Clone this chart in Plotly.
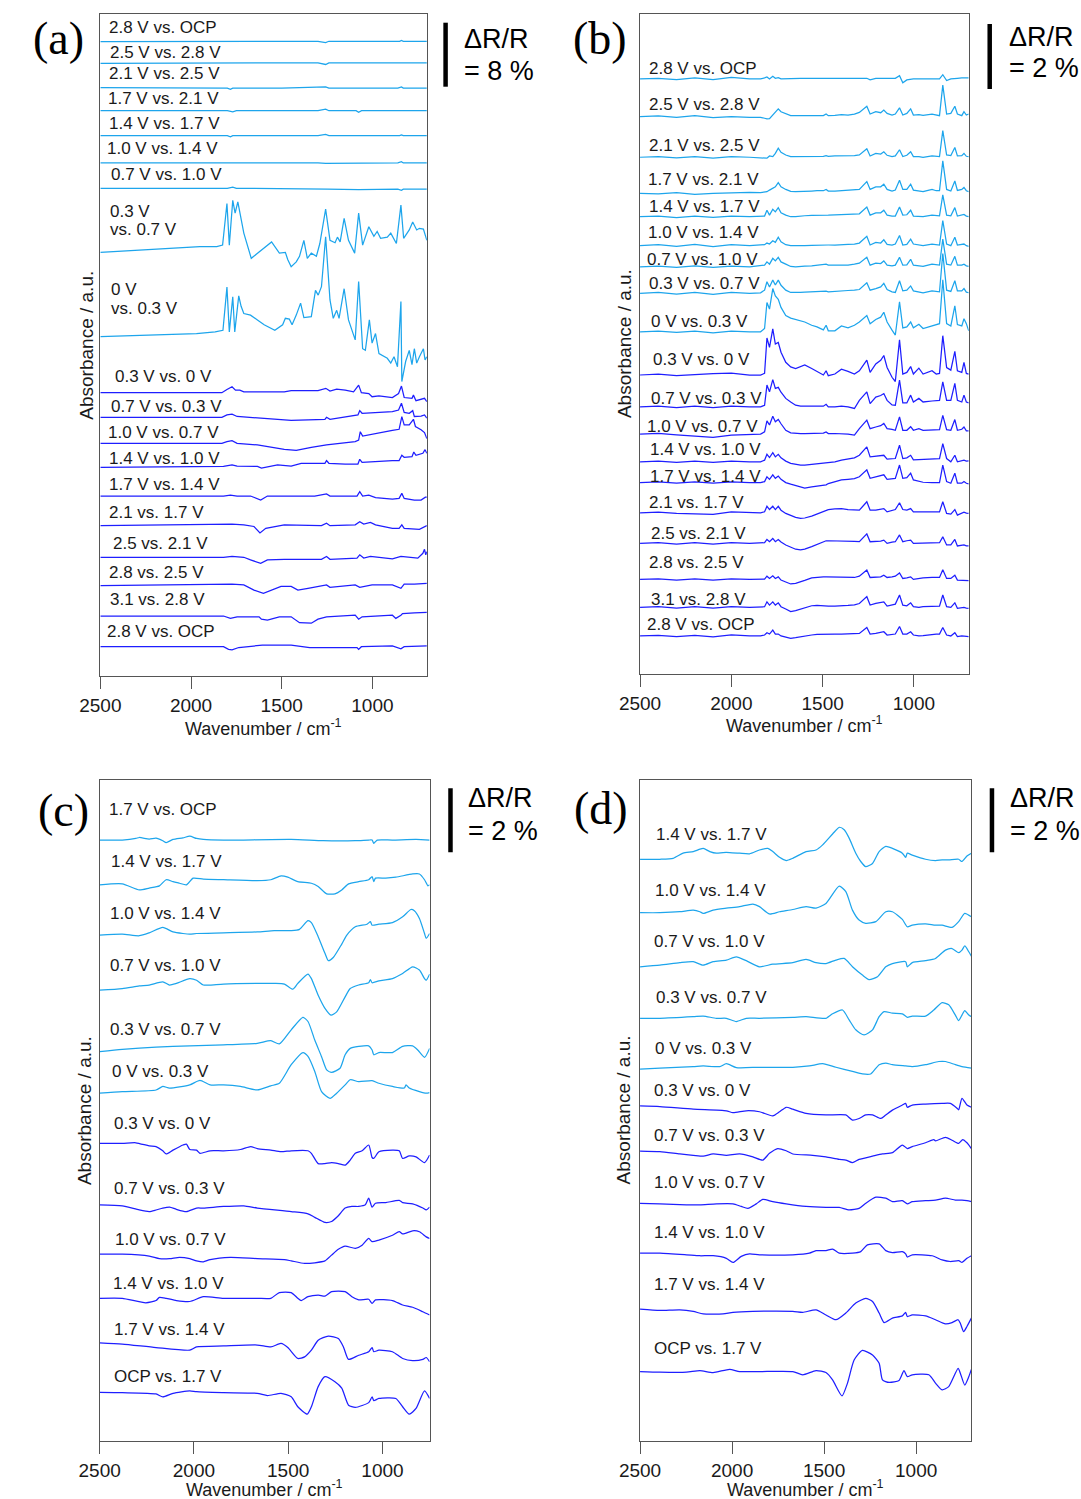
import plotly.graph_objects as go

FIG_W, FIG_H = 1081, 1499
CYAN = "#1DA5EC"
BLUE = "#1E1EFF"
TEXT = "#1a1a1a"
FRAME = "#555555"
SANS = "Liberation Sans, Arial, sans-serif"
SERIF = "Liberation Serif, Times New Roman, serif"

# ------------------------------------------------------------------
# (a)  spectra as (wavenumber / cm-1, dR/R / %) pairs, relative to each baseline
# ------------------------------------------------------------------
A_LABELS = ["2.8 V vs. OCP", "2.5 V vs. 2.8 V", "2.1 V vs. 2.5 V", "1.7 V vs. 2.1 V",
            "1.4 V vs. 1.7 V", "1.0 V vs. 1.4 V", "0.7 V vs. 1.0 V", "0.3 V\nvs. 0.7 V",
            "0 V\nvs. 0.3 V", "0.3 V vs. 0 V", "0.7 V vs. 0.3 V", "1.0 V vs. 0.7 V",
            "1.4 V vs. 1.0 V", "1.7 V vs. 1.4 V", "2.1 vs. 1.7 V", "2.5 vs. 2.1 V",
            "2.8 vs. 2.5 V", "3.1 vs. 2.8 V", "2.8 V vs. OCP"]
A_OFFSET = [79.29, 76.59, 73.54, 70.66, 67.54, 64.13, 60.96, 52.96, 42.41, 35.41,
            32.34, 29.09, 26.09, 22.5, 18.79, 14.84, 11.29, 7.5, 3.66]
A_N_CYAN = 9

A01 = [(2500, 0), (1900, 0), (1790, 0.05), (1300, 0.05), (1258, -0.12), (1240, 0.05), (1080, 0.05),
       (850, 0.05), (840, 0.15), (830, 0.05), (700, 0.05)]
A02 = [(2500, 0), (1900, 0), (1790, 0.05), (1300, 0.05), (1258, -0.15), (1240, 0.05), (1080, 0.05),
       (850, 0.05), (840, 0.12), (830, 0.05), (700, 0.05)]
A03 = [(2500, 0), (1900, -0.05), (1800, -0.05), (1783, -0.2), (1770, -0.05), (1500, -0.05), (1258, 0.1),
       (1240, -0.05), (1080, -0.1), (1070, -0.05), (860, -0.05), (840, 0.1), (830, -0.05), (700, -0.05)]
A04 = [(2500, 0), (1800, 0), (1770, -0.15), (1750, 0), (1300, 0), (1258, 0.2), (1240, 0), (1090, 0),
       (1076, -0.2), (1060, 0), (700, 0)]
A05 = [(2500, 0), (1800, 0), (1783, -0.15), (1770, 0), (1300, 0), (1258, 0.15), (1240, 0), (850, 0),
       (840, 0.1), (830, 0), (700, 0)]
A06 = [(2500, 0), (1800, 0), (1770, 0.05), (1300, 0), (1258, -0.05), (860, 0), (840, 0.15), (830, 0),
       (700, 0)]
A07 = [(2500, 0), (1800, 0), (1770, 0.15), (1750, 0), (1250, -0.1), (1076, -0.15), (860, -0.1),
       (840, -0.25), (830, -0.1), (700, -0.1)]
A08 = [(2500, 0), (1951, 0.7), (1858, 0.7), (1826, 0.9), (1802, 6.1), (1789, 0.9), (1770, 6.5),
       (1757, 4.9), (1742, 6.3), (1709, 2.4), (1668, -0.75), (1634, -0.1), (1556, 1.3), (1513, -0.1),
       (1480, 0), (1467, -0.9), (1448, -1.8), (1420, -1.2), (1402, -0.5), (1378, 1.5), (1359, -0.75),
       (1337, -0.1), (1309, -0.5), (1290, 1.1), (1258, 5.4), (1234, 1.5), (1206, 1.2), (1193, 1.9),
       (1178, 1.3), (1156, 4.25), (1132, 1.5), (1098, -0.1), (1076, 4.9), (1054, 0.9), (1020, 3.2),
       (992, 2.0), (974, 2.6), (955, 1.75), (918, 1.9), (899, 2.4), (868, 1.1), (843, 5.9),
       (828, 1.75), (797, 2.8), (778, 3.8), (756, 2.8), (741, 3.0), (719, 2.9), (700, 1.5)]
A09 = [(2500, 0), (1970, 0.4), (1867, 0.6), (1824, 0.8), (1802, 6.2), (1789, 0.6), (1770, 5.0),
       (1759, 0.6), (1737, 5.1), (1724, 3.8), (1709, 2.9), (1672, 2.7), (1634, 2.1), (1597, 1.5),
       (1538, 0.8), (1495, 1.5), (1480, 2.3), (1458, 2.2), (1443, 1.5), (1420, 2.7), (1396, 4.2),
       (1389, 3.3), (1378, 2.4), (1337, 2.5), (1314, 5.8), (1299, 5.2), (1281, 6.25), (1258, 12.5),
       (1234, 4.6), (1216, 2.3), (1197, 3.3), (1184, 2.3), (1156, 6.0), (1132, 2.1), (1095, -0.4),
       (1076, 6.9), (1054, -1.5), (1039, -1.7), (1017, 2.1), (1002, -0.8), (983, 0.4), (964, -2.1),
       (918, -2.7), (899, -3.3), (881, -2.5), (862, -3.75), (843, 4.4), (838, -5.6), (817, -3.1),
       (797, -1.7), (782, -3.5), (769, -1.5), (756, -3.3), (741, -2.5), (719, -1.5), (710, -2.9),
       (700, -2.5)]
A10 = [(2500, 0), (1830, 0), (1802, 0.4), (1774, 0.75), (1755, 0.33), (1731, 0.33), (1709, 0.1),
       (1486, 0.1), (1448, 0.25), (1393, 0.25), (1300, 0.25), (1257, 0.55), (1234, 0.2), (1197, 0.45),
       (1150, 0.33), (1104, 0.1), (1076, 0.95), (1061, 0), (1020, -0.1), (1002, -0.5), (964, -0.4),
       (890, -0.6), (856, -0.1), (840, 0.83), (825, -0.6), (782, -0.7), (774, -0.3), (760, -1.0),
       (732, -0.8), (713, -0.7), (700, -1.1)]
A11 = [(2500, 0), (1830, 0), (1802, 0.3), (1774, 0.4), (1746, 0.1), (1634, -0.1), (1448, -0.4),
       (1262, -0.25), (1253, 0), (1234, -0.25), (1113, 0.15), (1080, 0.3), (1070, 0.83), (1057, 0.5),
       (890, 0.7), (856, 0.9), (840, 1.75), (825, 0.6), (797, 0.5), (778, 0.83), (769, 0.1),
       (732, 0.15), (713, 0.3), (700, -0.1)]
A12 = [(2500, 0), (1830, 0), (1802, 0.2), (1774, 0.33), (1746, 0), (1634, -0.2), (1486, -0.75),
       (1420, -0.9), (1337, -0.5), (1253, -0.2), (1095, 0.2), (1076, 0.4), (1067, 1.45), (1054, 0.9),
       (890, 1.6), (853, 1.75), (838, 3.33), (825, 2.3), (797, 2.3), (774, 3.0), (763, 2.1),
       (732, 1.7), (713, 1.33), (700, 0.6)]
A13 = [(2500, 0), (1821, 0.1), (1774, 0.3), (1746, 0.15), (1634, 0.1), (1612, -0.1), (1523, 0.3),
       (1448, 0.15), (1393, 0.5), (1262, 0.5), (1253, 0.83), (1240, 0.5), (1150, 0.4), (1080, 0.4),
       (1070, 1.0), (1057, 0.6), (890, 0.83), (853, 0.83), (838, 1.5), (825, 1.25), (782, 1.33),
       (772, 1.9), (760, 1.5), (722, 1.75), (710, 2.2), (700, 1.75)]
A14 = [(2500, 0), (1821, 0), (1783, 0.1), (1746, 0), (1672, 0), (1616, -0.5), (1579, 0), (1448, 0),
       (1318, 0), (1253, 0.25), (1234, 0), (1085, 0), (1070, 0.55), (1054, 0), (1020, 0.1),
       (983, -0.2), (890, -0.4), (853, -0.3), (838, 0.33), (825, -0.3), (769, -0.5), (732, -0.5),
       (708, -0.15), (700, -0.15)]
A15 = [(2500, 0), (1821, 0.1), (1774, 0.2), (1709, 0.1), (1653, -0.1), (1620, -0.9), (1588, -0.33),
       (1486, 0.1), (1281, 0), (1253, 0.3), (1234, 0), (1095, 0.1), (1070, 0.5), (1048, 0.2),
       (1011, 0.4), (983, 0.1), (890, -0.33), (853, -0.33), (838, 0.1), (825, -0.33), (741, -0.45),
       (700, 0)]
A16 = [(2500, 0), (1821, 0), (1774, 0.1), (1709, 0), (1672, -0.33), (1616, -0.75), (1579, -0.33),
       (1486, -0.25), (1281, -0.25), (1253, 0.1), (1234, -0.25), (1085, -0.1), (1070, 0.3),
       (1048, -0.1), (1011, 0.1), (890, -0.2), (843, 0.1), (750, -0.1), (722, 0.5), (713, 1.0),
       (706, 0.3), (700, 0.7)]
A17 = [(2500, 0), (1821, 0.1), (1774, 0.2), (1709, 0.1), (1653, -0.55), (1601, -0.95), (1560, -0.55),
       (1504, -0.1), (1448, -0.1), (1411, -0.55), (1355, -0.33), (1253, 0.1), (1234, -0.2),
       (1095, 0.1), (1070, -0.2), (1002, 0.1), (890, 0.1), (843, -0.33), (825, 0.2), (769, 0.2),
       (700, 0.3)]
A18 = [(2500, 0), (1821, 0), (1783, -0.3), (1746, -0.1), (1625, -0.1), (1612, -0.4), (1579, -0.5),
       (1513, -0.1), (1448, -0.1), (1402, -0.83), (1337, -0.9), (1300, -0.4), (1253, -0.1),
       (1150, 0), (1095, 0.1), (1076, -0.4), (1057, -0.1), (890, 0.1), (871, -0.3), (843, 0.1),
       (834, 0.3), (769, 0.4), (700, 0.45)]
A19 = [(2500, 0), (1821, 0), (1793, -0.33), (1774, -0.4), (1737, -0.1), (1607, 0.2), (1448, 0.2),
       (1346, -0.1), (1150, -0.1), (1085, -0.1), (1076, -0.33), (1061, 0), (890, 0.1), (843, -0.25),
       (825, 0), (700, 0.1)]
A_SPECTRA = [A01, A02, A03, A04, A05, A06, A07, A08, A09, A10,
             A11, A12, A13, A14, A15, A16, A17, A18, A19]
A_LABEL_X = [87.8, 88.8, 87.8, 86.8, 88, 86, 89.5, 89, 90.2, 94,
             90.2, 86.8, 87.8, 87.8, 87.5, 92, 87.5, 88.8, 85.4]
A_LABEL_Y = [27.3, 52.7, 74, 99, 123.3, 149, 174, 211, 290, 376,
             406, 432.7, 458.3, 484, 512.3, 543.3, 572.7, 600, 631]

# ------------------------------------------------------------------
# (b)  spectra sampled on a shared wavenumber grid (dR/R / %)
# ------------------------------------------------------------------
B_WN = [2500, 2400, 2300, 2200, 2100, 2000, 1900,
        1840, 1818, 1805, 1791, 1773, 1759, 1743, 1728, 1702,
        1675, 1648, 1621, 1598, 1560, 1531, 1496, 1481, 1469, 1433, 1397, 1361, 1326, 1299,
        1258, 1240, 1209, 1182, 1165, 1147, 1120, 1102,
        1079, 1061, 1039, 1018, 1003, 973, 950, 901, 878, 860,
        842, 821, 798, 776, 762, 738, 726, 713, 700]
B_LABELS = ["2.8 V vs. OCP", "2.5 V vs. 2.8 V", "2.1 V vs. 2.5 V", "1.7 V vs. 2.1 V",
            "1.4 V vs. 1.7 V", "1.0 V vs. 1.4 V", "0.7 V vs. 1.0 V", "0.3 V vs. 0.7 V",
            "0 V vs. 0.3 V", "0.3 V vs. 0 V", "0.7 V vs. 0.3 V", "1.0 V vs. 0.7 V",
            "1.4 V vs. 1.0 V", "1.7 V vs. 1.4 V", "2.1 vs. 1.7 V", "2.5 vs. 2.1 V",
            "2.8 vs. 2.5 V", "3.1 vs. 2.8 V", "2.8 V vs. OCP"]
B_OFFSET = [18.31, 17.15, 15.90, 14.79, 14.07, 13.18, 12.53, 11.71, 10.53, 9.2,
            8.22, 7.38, 6.53, 5.89, 4.96, 4.02, 2.91, 2.05, 1.17]
B_N_CYAN = 9

B01 = [0, 0.02, -0.02, 0.03, -0.02, 0.05, 0,
       0, 0.03, 0.06, 0, 0.08, 0.02, 0.04, 0, 0.01,
       0.02, 0.02, 0.02, 0.02, 0.02, 0.02, 0.02, 0.02, 0.02, 0.01, 0.02, 0.02, 0.02, 0.03,
       0.02, -0.03, 0.02, 0.02, 0.03, 0.02, 0.02, 0.02,
       0.1, -0.12, -0.03, 0, 0, 0, 0, 0.02, 0, 0,
       0.13, -0.05, 0, 0.02, 0.02, 0.03, 0.03, 0.03, 0.03]
B02 = [0, 0.02, -0.02, 0.03, -0.03, 0, -0.02,
       -0.02, -0.05, -0.07, -0.06, 0.05, 0.12, 0.24, 0.15, 0.08,
       0.03, 0.03, 0.03, 0.03, 0.03, 0.03, 0.03, 0.08, 0.03, 0.04, 0.06, 0.05, 0.08, 0.13,
       0.32, 0.08, 0.15, 0.12, 0.2, 0.1, 0.05, 0.08,
       0.27, 0.05, 0.1, 0.24, 0.05, 0.06, 0.04, 0.08, 0.05, 0.03,
       0.97, 0.08, 0.1, 0.32, 0.08, 0.03, 0.15, 0.05, 0.08]
B03 = [0, 0.02, -0.02, 0.02, -0.03, 0.02, 0,
       -0.02, -0.03, -0.03, 0.04, 0.02, 0.12, 0.28, 0.15, 0.07,
       0.02, 0.02, 0.02, 0.02, 0.02, 0.03, 0.03, 0.05, 0.03, 0.04, 0.04, 0.04, 0.05, 0.07,
       0.26, 0.04, 0.12, 0.1, 0.17, 0.06, 0.02, 0.04,
       0.23, 0.02, 0.06, 0.17, 0.02, 0.02, 0, 0.04, 0.02, 0.02,
       0.82, 0.07, 0.05, 0.3, 0.04, 0.05, 0.12, 0.03, 0.02]
B04 = [0, -0.02, 0.02, -0.03, 0, 0.02, 0.03,
       0.02, 0.03, 0.05, 0.1, 0.17, 0.2, 0.33, 0.2, 0.12,
       0.06, 0.05, 0.05, 0.06, 0.07, 0.08, 0.08, 0.12, 0.07, 0.07, 0.08, 0.08, 0.1, 0.12,
       0.36, 0.12, 0.2, 0.2, 0.28, 0.12, 0.07, 0.1,
       0.4, 0.12, 0.12, 0.28, 0.1, 0.08, 0.05, 0.12, 0.08, 0.08,
       1.0, 0.12, 0.07, 0.38, 0.09, 0.12, 0.18, 0.08, 0.05]
B05 = [0, 0.02, -0.03, 0.02, -0.02, 0.02, 0,
       0, 0.02, 0.2, 0.05, 0.23, 0.15, 0.28, 0.12, 0.05,
       0, 0, 0.02, 0.03, 0.04, 0.05, 0.05, 0.05, 0.05, 0.06, 0.07, 0.07, 0.08, 0.09,
       0.3, 0.05, 0.12, 0.12, 0.2, 0.05, 0.02, 0.02,
       0.3, 0.05, 0.06, 0.2, 0.02, 0.01, 0, 0.05, 0.04, 0.03,
       0.67, 0.05, 0.03, 0.28, 0.02, 0.04, 0.07, 0.02, 0]
B06 = [0, 0.03, -0.02, 0.04, -0.03, 0.03, 0,
       0.02, 0.03, 0.08, 0.05, 0.15, 0.1, 0.26, 0.12, 0.03,
       0, 0, -0.01, 0, 0.01, 0.02, 0.02, 0.03, 0.02, 0.02, 0.02, 0.04, 0.05, 0.08,
       0.29, 0.02, 0.1, 0.08, 0.18, 0.04, 0.02, 0.05,
       0.31, 0.02, 0.04, 0.2, 0.05, 0.03, 0, 0.05, 0.03, 0.02,
       0.77, 0.05, 0, 0.26, 0.02, 0.04, 0.05, 0, -0.02]
B07 = [0, 0.02, -0.02, 0.03, -0.02, 0.02, 0,
       0.02, 0.05, 0.15, 0.08, 0.26, 0.18, 0.29, 0.15, 0.08,
       0.01, 0, 0, 0.02, 0.03, 0.05, 0.06, 0.08, 0.05, 0.05, 0.05, 0.05, 0.08, 0.11,
       0.29, 0.05, 0.11, 0.1, 0.18, 0.05, 0.03, 0.05,
       0.29, 0.05, 0.06, 0.23, 0.05, 0.04, 0.01, 0.08, 0.05, 0.05,
       0.85, 0.08, 0.05, 0.32, 0.05, 0.05, 0.08, 0.03, 0.01]
B08 = [0, 0.03, -0.02, 0.03, -0.03, 0.03, 0,
       0.02, 0.1, 0.36, 0.2, 0.41, 0.26, 0.41, 0.25, 0.1,
       0.03, 0.02, 0.03, 0.04, 0.05, 0.06, 0.06, 0.07, 0.05, 0.07, 0.08, 0.09, 0.1, 0.12,
       0.33, 0.1, 0.15, 0.2, 0.31, 0.12, 0.05, 0.03,
       0.39, 0.08, 0.1, 0.23, 0.08, 0.04, 0.02, 0.08, 0.06, 0.05,
       1.23, 0.1, 0.06, 0.39, 0.08, 0.08, 0.15, 0.04, 0.02]
B09 = [0, 0.02, -0.02, 0.02, -0.03, 0.02, 0,
       0, 0.1, 0.9, 0.7, 1.33, 1.1, 1.0, 0.75, 0.5,
       0.42, 0.38, 0.33, 0.3, 0.2, 0.15, 0.06, 0.2, 0.03, 0.03, 0.18, 0.12, 0.2, 0.3,
       0.5, 0.25, 0.38, 0.45, 0.6, 0.3, 0.05, -0.1,
       0.92, 0.12, 0.15, 0.3, 0.12, 0.23, 0.1, 0.18, 0.2, 0.25,
       1.6, 0.25, 0.18, 0.8, 0.22, 0.18, 0.4, 0.25, 0.03]
B10 = [0, 0.03, -0.02, 0.02, 0.04, 0.06, 0,
       0, 0.05, 1.14, 0.85, 1.42, 0.95, 1.0, 0.7, 0.39,
       0.25, 0.2, 0.25, 0.31, 0.2, 0.12, 0, 0.13, -0.02, 0.03, 0.18, 0.11, 0.03, 0.13,
       0.46, 0.08, 0.34, 0.45, 0.6, 0.23, -0.07, -0.2,
       1.08, 0.03, 0.08, 0.26, 0.03, 0.21, 0.03, 0.13, 0.03, 0.05,
       1.21, 0.23, 0.15, 0.73, 0.13, 0.08, 0.39, 0.05, 0.03]
B11 = [0, 0.02, -0.02, 0.02, -0.02, 0.02, 0,
       0, 0.05, 0.67, 0.46, 0.84, 0.57, 0.6, 0.45, 0.26,
       0.15, 0.05, 0.02, 0.02, 0.02, 0.02, 0.02, 0.08, 0, 0, 0.02, 0, -0.05, 0.2,
       0.46, 0.1, 0.3, 0.35, 0.41, 0.2, 0.06, 0.05,
       0.82, 0.12, 0.12, 0.36, 0.15, 0.26, 0.15, 0.18, 0.2, 0.2,
       0.77, 0.2, 0.2, 0.72, 0.2, 0.15, 0.36, 0.15, 0.12]
B12 = [0, 0.02, -0.02, -0.05, -0.1, -0.03, -0.02,
       0, 0.07, 0.41, 0.28, 0.55, 0.38, 0.45, 0.32, 0.12,
       0.04, 0.02, 0.02, 0.02, 0.02, 0.02, 0.03, 0.07, 0.02, 0.02, 0.02, 0, -0.03, 0.17,
       0.43, 0.17, 0.22, 0.26, 0.33, 0.17, 0.15, 0.12,
       0.53, 0.12, 0.12, 0.23, 0.12, 0.17, 0.12, 0.14, 0.14, 0.14,
       0.58, 0.14, 0.12, 0.45, 0.12, 0.15, 0.22, 0.1, 0.1]
B13 = [0, 0.02, -0.02, 0.02, -0.02, 0.02, 0,
       0, 0.05, 0.23, 0.13, 0.28, 0.15, 0.23, 0.12, 0.02,
       -0.05, -0.08, -0.1, -0.1, -0.08, -0.05, -0.04, -0.03, -0.03, 0, 0.05, 0.08, 0.12, 0.2,
       0.46, 0.15, 0.17, 0.18, 0.2, 0.08, 0.08, 0.1,
       0.51, 0.1, 0.12, 0.2, 0.06, 0.07, 0.07, 0.1, 0.1, 0.1,
       0.56, 0.1, 0, 0.2, 0, 0.02, 0.05, 0.02, 0.03]
B14 = [0, 0.02, -0.02, 0.02, -0.02, 0.02, 0,
       0, 0.03, 0.18, 0.1, 0.24, 0.13, 0.2, 0.1, 0,
       -0.05, -0.1, -0.15, -0.17, -0.13, -0.1, -0.08, -0.07, -0.03, 0.03, 0.08, 0.1, 0.12, 0.18,
       0.39, 0.13, 0.17, 0.2, 0.24, 0.1, 0.12, 0.13,
       0.54, 0.13, 0.15, 0.29, 0.08, 0.03, 0.01, 0, 0, 0,
       0.54, 0.03, -0.02, 0.29, -0.02, -0.02, 0.03, -0.02, -0.04]
B15 = [0, 0.02, -0.02, -0.03, -0.05, 0.03, 0,
       0, 0.03, 0.2, 0.1, 0.2, 0.1, 0.2, 0.08, -0.02,
       -0.08, -0.14, -0.17, -0.16, -0.1, -0.04, 0.04, 0.08, 0.1, 0.12, 0.13, 0.1, 0.08, 0.08,
       0.34, 0.08, 0.08, 0.1, 0.13, 0.03, 0.07, 0.1,
       0.31, 0.1, 0.08, 0.13, 0.03, 0.03, 0.03, 0.03, 0.03, 0.03,
       0.34, -0.02, -0.04, 0.1, -0.07, 0, 0.02, -0.01, -0.02]
B16 = [0, 0.02, -0.02, 0.02, -0.02, 0.02, 0,
       0, 0.02, 0.12, 0.05, 0.15, 0.05, 0.12, 0.04, -0.05,
       -0.12, -0.18, -0.2, -0.18, -0.1, -0.03, 0.06, 0.08, 0.08, 0.08, 0.08, 0.06, 0.06, 0.05,
       0.29, 0.05, 0.05, 0.07, 0.1, 0, 0.04, 0.05,
       0.26, 0.05, 0.08, 0.1, 0, 0, 0.01, 0.02, 0.02, 0.02,
       0.2, -0.05, -0.05, 0.12, -0.08, -0.06, -0.05, -0.08, -0.08]
B17 = [0, 0.02, -0.02, 0.02, -0.02, 0.02, 0,
       0, 0.01, 0.1, 0.03, 0.11, 0.03, 0.08, -0.02, -0.08,
       -0.14, -0.12, -0.08, -0.03, 0.05, 0.07, 0.08, 0.08, 0.08, 0.08, 0.08, 0.07, 0.06, 0.1,
       0.29, 0.06, 0.06, 0.08, 0.13, 0.06, 0.08, 0.1,
       0.2, 0.03, 0.05, 0.08, 0, 0.03, 0.05, 0.06, 0.06, 0.06,
       0.3, 0.03, 0.03, 0.13, -0.02, -0.03, -0.04, -0.04, -0.04]
B18 = [0, 0.02, -0.02, 0.02, -0.02, 0.02, 0,
       0, 0.02, 0.17, 0.07, 0.17, 0.07, 0.14, 0.02, -0.05,
       -0.13, -0.1, -0.05, -0.02, 0.05, 0.06, 0.04, 0.04, 0.04, 0.04, 0.04, 0.06, 0.08, 0.12,
       0.33, 0.07, 0.12, 0.14, 0.17, 0.04, 0.08, 0.1,
       0.38, 0.07, 0.05, 0.14, 0.02, 0, 0.02, 0.04, 0.04, 0.04,
       0.38, 0.02, 0, 0.14, -0.03, -0.01, 0, -0.02, -0.03]
B19 = [0, 0.02, -0.02, 0.02, -0.03, 0.03, 0,
       0, 0.03, 0.1, 0.06, 0.18, 0.06, 0.06, 0, -0.04,
       -0.07, -0.05, -0.02, 0, 0.03, 0.05, 0.06, 0.06, 0.06, 0.06, 0.06, 0.07, 0.08, 0.08,
       0.26, 0.06, 0.08, 0.1, 0.13, 0.03, 0.05, 0.06,
       0.29, 0.06, 0.06, 0.13, 0.03, 0, 0.01, 0.06, 0.06, 0.06,
       0.26, 0.03, 0, 0.1, -0.02, 0, 0, -0.02, -0.02]
B_ROWS = [B01, B02, B03, B04, B05, B06, B07, B08, B09, B10,
          B11, B12, B13, B14, B15, B16, B17, B18, B19]
B_SPECTRA = [list(zip(B_WN, row)) for row in B_ROWS]
B_LABEL_X = [638.7, 638.7, 638.7, 637.4, 638.7, 637.4, 636.4, 638.7, 640.8, 642.1,
             640.8, 636.4, 639.7, 639.7, 638.7, 640.8, 638.7, 640.8, 636.4]
B_LABEL_Y = [68.3, 104.3, 145.7, 180, 206.7, 232.3, 260, 283.3, 321, 360,
             398.3, 426, 450, 476.7, 502.7, 533.3, 562.7, 600, 624.3]

# ------------------------------------------------------------------
# (c)
# ------------------------------------------------------------------
C_LABELS = ["1.7 V vs. OCP", "1.4 V vs. 1.7 V", "1.0 V vs. 1.4 V", "0.7 V vs. 1.0 V",
            "0.3 V vs. 0.7 V", "0 V vs. 0.3 V", "0.3 V vs. 0 V", "0.7 V vs. 0.3 V",
            "1.0 V vs. 0.7 V", "1.4 V vs. 1.0 V", "1.7 V vs. 1.4 V", "OCP vs. 1.7 V"]
C_OFFSET = [18.77, 17.37, 15.80, 14.08, 12.16, 10.86, 9.29, 7.37, 5.83, 4.45, 3.06, 1.51]
C_N_CYAN = 6

C01 = [(2500, 0), (2380, 0), (2308, 0.05), (2290, 0.08), (2237, 0.03), (2201, 0.06), (2165, -0.02),
       (2147, -0.08), (2111, 0.02), (2058, 0.07), (2022, 0.12), (1986, 0.05), (1950, 0.02), (1843, 0),
       (1484, 0.02), (1314, -0.02), (1144, -0.02), (1073, 0), (1055, 0), (1046, -0.1), (1028, 0),
       (947, 0), (822, 0.02), (750, 0)]
C02 = [(2500, 0), (2380, 0.03), (2290, -0.16), (2237, -0.1), (2183, -0.03), (2147, 0.16), (2111, 0.1),
       (2076, 0.05), (2040, 0), (2004, 0.21), (1950, 0.18), (1843, 0.16), (1664, 0.13), (1592, 0.16),
       (1538, 0.28), (1502, 0.24), (1449, 0.1), (1377, 0.05), (1341, -0.05), (1296, -0.28),
       (1252, -0.28), (1216, -0.16), (1180, 0.03), (1126, 0.1), (1073, 0.16), (1055, 0.26),
       (1046, 0.1), (1037, 0.21), (983, 0.21), (929, 0.24), (840, 0.34), (804, 0.34), (777, 0.16),
       (759, -0.03), (750, 0)]
C03 = [(2500, 0), (2380, 0.03), (2290, -0.02), (2237, 0.07), (2165, 0.24), (2111, 0.1), (2058, 0.05),
       (2022, 0.03), (1986, 0.05), (1843, 0.07), (1664, 0.1), (1574, 0.14), (1484, 0.14), (1440, 0.18),
       (1395, 0.45), (1377, 0.39), (1341, -0.05), (1305, -0.57), (1287, -0.8), (1261, -0.7),
       (1216, -0.28), (1189, 0), (1144, 0.26), (1082, 0.34), (1064, 0.42), (1055, 0.31), (1019, 0.34),
       (947, 0.39), (893, 0.57), (849, 0.8), (831, 0.76), (804, 0.52), (777, 0.05), (768, -0.1),
       (750, 0.05)]
C04 = [(2500, 0), (2380, 0.05), (2290, 0.13), (2237, 0.16), (2165, 0.26), (2129, 0.16), (2093, 0.21),
       (2022, 0.36), (1986, 0.31), (1950, 0.16), (1914, 0.16), (1843, 0.19), (1664, 0.21), (1574, 0.21),
       (1520, 0.19), (1476, 0.03), (1449, 0.21), (1395, 0.5), (1377, 0.36), (1341, -0.16),
       (1305, -0.57), (1273, -0.78), (1243, -0.68), (1198, -0.21), (1171, 0.05), (1126, 0.16),
       (1073, 0.23), (1064, 0.33), (1055, 0.23), (1019, 0.29), (947, 0.36), (893, 0.52), (840, 0.73),
       (804, 0.63), (777, 0.36), (768, 0.31), (750, 0.5)]
C05 = [(2500, 0), (2380, 0.07), (2201, 0.14), (2022, 0.18), (1843, 0.21), (1664, 0.26), (1592, 0.34),
       (1547, 0.24), (1484, 0.68), (1422, 1.07), (1395, 0.94), (1359, 0.36), (1323, -0.16),
       (1296, -0.57), (1270, -0.65), (1225, -0.52), (1198, -0.1), (1171, 0.1), (1126, 0.16),
       (1073, 0.18), (1055, 0.05), (1046, -0.1), (1019, -0.03), (947, -0.03), (893, 0.16), (840, 0.18),
       (813, 0.05), (777, -0.18), (750, 0.1)]
C06 = [(2500, 0), (2380, 0.05), (2201, 0.1), (2165, 0.21), (2129, 0.16), (2022, 0.26), (1968, 0.4),
       (1914, 0.26), (1843, 0.26), (1753, 0.21), (1664, 0.1), (1592, 0.23), (1547, 0.31), (1484, 0.89),
       (1422, 1.27), (1395, 1.15), (1359, 0.68), (1323, 0.05), (1278, -0.16), (1243, 0), (1198, 0.26),
       (1171, 0.42), (1126, 0.36), (1055, 0.39), (1019, 0.31), (947, 0.21), (884, 0.16), (875, 0.26),
       (858, 0.16), (804, 0.05), (768, 0), (750, 0.02)]
C07 = [(2500, 0), (2380, 0), (2308, 0.02), (2237, -0.08), (2201, -0.1), (2165, -0.23), (2147, -0.33),
       (2111, -0.21), (2058, -0.05), (2040, -0.02), (2022, -0.19), (1986, -0.21), (1968, -0.31),
       (1914, -0.23), (1843, -0.23), (1753, -0.19), (1699, -0.1), (1664, -0.16), (1592, -0.21),
       (1538, -0.26), (1484, -0.23), (1395, -0.23), (1377, -0.31), (1341, -0.63), (1305, -0.63),
       (1270, -0.6), (1234, -0.63), (1198, -0.68), (1171, -0.52), (1144, -0.31), (1108, -0.23),
       (1073, -0.05), (1055, -0.44), (1046, -0.47), (1019, -0.26), (947, -0.21), (911, -0.23),
       (893, -0.47), (858, -0.39), (822, -0.42), (777, -0.6), (750, -0.36)]
C08 = [(2500, 0), (2380, -0.03), (2290, -0.16), (2237, -0.21), (2201, -0.16), (2165, -0.1),
       (2129, -0.07), (2093, -0.14), (2040, -0.21), (1986, -0.1), (1950, -0.1), (1843, -0.05),
       (1735, -0.03), (1664, -0.1), (1484, -0.21), (1395, -0.28), (1359, -0.39), (1305, -0.55),
       (1270, -0.52), (1234, -0.34), (1198, -0.1), (1162, -0.05), (1126, -0.05), (1091, 0),
       (1073, 0.21), (1055, -0.07), (1037, 0.05), (983, 0.07), (911, 0.14), (893, 0.07), (840, 0.03),
       (786, -0.1), (768, -0.16), (750, -0.07)]
C09 = [(2500, 0), (2380, 0), (2237, -0.06), (2183, -0.14), (2129, -0.14), (2076, -0.1), (2022, -0.14),
       (1986, -0.21), (1950, -0.24), (1914, -0.17), (1807, -0.1), (1664, -0.14), (1520, -0.17),
       (1484, -0.21), (1413, -0.29), (1359, -0.27), (1305, -0.21), (1270, -0.03), (1234, 0.15),
       (1198, 0.25), (1144, 0.18), (1108, 0.28), (1073, 0.49), (1055, 0.39), (1019, 0.44),
       (947, 0.59), (911, 0.7), (893, 0.63), (840, 0.73), (804, 0.7), (768, 0.54), (750, 0.49)]
C10 = [(2500, 0), (2380, 0), (2255, -0.14), (2201, -0.07), (2183, 0.03), (2147, 0), (2093, -0.07),
       (2022, -0.1), (1950, 0.05), (1843, 0), (1664, 0), (1592, 0), (1547, 0.18), (1484, 0.18),
       (1449, 0), (1431, -0.07), (1395, 0.05), (1341, 0.1), (1305, 0.07), (1270, 0.21), (1198, 0.21),
       (1162, 0.05), (1126, -0.05), (1073, -0.03), (1055, -0.16), (1037, -0.05), (947, -0.07),
       (893, -0.21), (840, -0.28), (786, -0.42), (750, -0.52)]
C11 = [(2500, 0), (2380, -0.04), (2201, -0.15), (2022, -0.23), (1986, -0.13), (1843, -0.1),
       (1664, -0.07), (1592, -0.13), (1538, -0.02), (1502, -0.15), (1449, -0.49), (1413, -0.44),
       (1377, -0.23), (1341, 0.08), (1287, 0.21), (1234, 0.13), (1207, -0.13), (1180, -0.52),
       (1126, -0.39), (1073, -0.28), (1055, -0.15), (1046, -0.28), (1019, -0.23), (947, -0.28),
       (893, -0.49), (840, -0.56), (786, -0.52), (768, -0.46), (750, -0.59)]
C12 = [(2500, 0), (2380, -0.01), (2201, -0.05), (2165, -0.14), (2111, -0.03), (2022, 0.05),
       (1986, 0.02), (1843, -0.01), (1664, -0.03), (1610, -0.1), (1538, -0.03), (1484, -0.14),
       (1449, -0.45), (1399, -0.68), (1377, -0.45), (1341, 0.18), (1305, 0.49), (1252, 0.33),
       (1216, 0.13), (1180, -0.4), (1144, -0.47), (1073, -0.32), (1055, -0.14), (1046, -0.26),
       (1019, -0.19), (929, -0.19), (893, -0.45), (858, -0.68), (822, -0.5), (777, 0.05), (750, -0.19)]
C_SPECTRA = [C01, C02, C03, C04, C05, C06, C07, C08, C09, C10, C11, C12]
C_LABEL_X = [87.8, 89.5, 88.8, 88.8, 88.8, 90.6, 92.3, 92.3, 93.7, 91.3, 93, 92.3]
C_LABEL_Y = [809.3, 861.7, 913.3, 965, 1029.3, 1071.7, 1123.3, 1188.3, 1239.3, 1283.3, 1329.3, 1376]

# ------------------------------------------------------------------
# (d)
# ------------------------------------------------------------------
D_LABELS = ["1.4 V vs. 1.7 V", "1.0 V vs. 1.4 V", "0.7 V vs. 1.0 V", "0.3 V vs. 0.7 V",
            "0 V vs. 0.3 V", "0.3 V vs. 0 V", "0.7 V vs. 0.3 V", "1.0 V vs. 0.7 V",
            "1.4 V vs. 1.0 V", "1.7 V vs. 1.4 V", "OCP vs. 1.7 V"]
D_OFFSET = [18.17, 16.5, 14.81, 13.2, 11.61, 10.46, 9.05, 7.42, 5.86, 4.11, 2.16]
D_N_CYAN = 5

D01 = [(2500, 0), (2392, 0), (2320, 0.03), (2266, 0.19), (2211, 0.24), (2157, 0.34), (2121, 0.24),
       (2085, 0.19), (2049, 0.21), (2013, 0.21), (1959, 0.19), (1905, 0.17), (1851, 0.29), (1806, 0.34),
       (1779, 0.24), (1742, 0.06), (1706, -0.04), (1670, 0.03), (1598, 0.24), (1544, 0.29),
       (1508, 0.45), (1454, 0.79), (1418, 1.0), (1391, 0.92), (1364, 0.66), (1328, 0.19),
       (1301, -0.07), (1274, -0.23), (1237, -0.13), (1201, 0.24), (1165, 0.4), (1129, 0.34),
       (1075, 0.19), (1057, 0.06), (1048, 0.19), (1021, 0.13), (949, 0), (895, -0.04), (859, -0.02),
       (823, -0.02), (769, 0), (751, -0.07), (724, 0.1), (700, 0.19)]
D02 = [(2500, 0), (2392, 0), (2284, 0.03), (2211, 0.08), (2175, 0.03), (2157, -0.02), (2103, 0.08),
       (2031, 0.14), (1959, 0.19), (1887, 0.27), (1851, 0.19), (1797, -0.04), (1742, 0.03),
       (1670, 0.1), (1598, 0.19), (1544, 0.14), (1490, 0.29), (1418, 0.83), (1382, 0.66), (1346, 0.08),
       (1310, -0.23), (1274, -0.33), (1219, -0.28), (1165, 0.03), (1129, 0.03), (1075, -0.21),
       (1048, -0.44), (1021, -0.39), (949, -0.35), (895, -0.39), (859, -0.39), (805, -0.46),
       (769, -0.28), (736, -0.02), (700, -0.13)]
D03 = [(2500, 0), (2392, 0.05), (2284, 0.13), (2211, 0.16), (2157, 0.05), (2103, 0.16), (2031, 0.21),
       (1977, 0.31), (1923, 0.19), (1851, 0), (1779, 0.08), (1670, 0.13), (1598, 0.23), (1544, 0.13),
       (1490, 0.1), (1436, 0.21), (1391, 0.26), (1346, 0), (1292, -0.26), (1256, -0.4), (1210, -0.31),
       (1165, 0), (1129, 0.1), (1057, 0.16), (1048, 0), (1021, 0.13), (949, 0.19), (895, 0.26),
       (841, 0.52), (805, 0.57), (769, 0.44), (751, 0.52), (736, 0.65), (714, 0.47), (700, 0.33)]
D04 = [(2500, 0), (2392, 0), (2211, 0.05), (2157, 0.07), (2085, 0), (2031, 0), (1977, -0.1),
       (1923, 0), (1851, 0), (1670, 0.03), (1598, 0.05), (1490, 0), (1454, 0.14), (1400, 0.26),
       (1364, -0.05), (1328, -0.36), (1283, -0.52), (1237, -0.36), (1201, 0.05), (1174, 0.21),
       (1129, 0.16), (1075, 0.14), (1048, 0.03), (1021, 0.07), (949, 0.07), (904, 0.26), (859, 0.49),
       (823, 0.42), (787, 0.1), (769, -0.07), (751, 0.1), (736, 0.24), (714, 0.1), (700, 0.05)]
D05 = [(2500, 0), (2392, 0.03), (2211, 0.08), (2157, 0.1), (2067, 0.08), (2031, 0.17), (1977, 0.05),
       (1851, 0.06), (1670, 0.06), (1580, 0.1), (1508, 0.17), (1436, 0.06), (1346, -0.07),
       (1292, -0.15), (1247, -0.15), (1201, 0.14), (1165, 0.19), (1129, 0.14), (1057, 0.1),
       (1021, 0.08), (949, 0.14), (877, 0.24), (841, 0.24), (787, 0.14), (751, 0.08), (700, 0.03)]
D06 = [(2500, 0), (2392, -0.02), (2211, -0.1), (2031, -0.15), (1995, -0.21), (1923, -0.15),
       (1851, -0.18), (1779, -0.31), (1742, -0.18), (1706, -0.04), (1670, -0.1), (1598, -0.23),
       (1490, -0.28), (1382, -0.28), (1346, -0.44), (1310, -0.39), (1274, -0.28), (1237, -0.28),
       (1192, -0.39), (1165, -0.28), (1129, -0.13), (1075, 0.03), (1057, 0.08), (1048, -0.04),
       (1021, 0.03), (949, 0.06), (859, 0.08), (814, 0.08), (778, -0.07), (769, -0.12), (751, 0.24),
       (724, 0.03), (700, -0.04)]
D07 = [(2500, 0), (2392, -0.02), (2284, -0.09), (2211, -0.13), (2157, -0.16), (2103, -0.09),
       (2031, -0.13), (1959, -0.09), (1887, -0.18), (1833, -0.28), (1797, -0.07), (1752, 0.08),
       (1706, 0.01), (1670, -0.09), (1562, -0.13), (1490, -0.18), (1418, -0.26), (1382, -0.28),
       (1346, -0.36), (1310, -0.26), (1237, -0.16), (1183, -0.09), (1129, -0.05), (1075, 0.19),
       (1048, 0.08), (1021, 0.14), (949, 0.26), (904, 0.36), (895, 0.32), (841, 0.43), (805, 0.34),
       (769, 0.24), (747, 0.36), (724, 0.26), (700, 0.08)]
D08 = [(2500, 0), (2392, -0.02), (2248, -0.05), (2175, -0.05), (2085, -0.02), (1995, -0.02),
       (1950, -0.1), (1914, -0.16), (1869, -0.02), (1833, 0.12), (1779, 0.05), (1706, -0.02),
       (1598, -0.1), (1490, -0.13), (1418, -0.13), (1364, -0.21), (1310, -0.16), (1274, 0),
       (1219, 0.19), (1165, 0.16), (1129, 0.05), (1075, 0.08), (1048, -0.02), (1021, 0.05),
       (949, 0.08), (895, 0.1), (841, 0.16), (787, 0.1), (751, 0.1), (724, 0.08), (700, 0.05)]
D09 = [(2500, 0), (2392, 0), (2248, -0.05), (2175, -0.08), (2103, -0.08), (2031, -0.16), (1995, -0.29),
       (1950, -0.1), (1905, -0.02), (1851, -0.05), (1670, -0.05), (1580, 0), (1544, 0.08), (1490, 0.08),
       (1454, 0.13), (1418, 0), (1346, 0), (1301, 0.05), (1265, 0.26), (1201, 0.29), (1165, 0.08),
       (1129, 0.02), (1075, 0.05), (1057, -0.02), (1048, -0.12), (1021, -0.05), (913, -0.08),
       (859, -0.21), (814, -0.26), (769, -0.23), (751, -0.29), (724, -0.16), (700, -0.08)]
D10 = [(2500, 0), (2392, -0.04), (2284, -0.02), (2211, -0.07), (2157, -0.15), (2049, -0.15),
       (1995, -0.1), (1887, -0.07), (1670, -0.07), (1616, -0.1), (1544, -0.02), (1490, -0.18),
       (1436, -0.33), (1382, -0.12), (1328, 0.19), (1274, 0.34), (1237, 0.24), (1201, -0.12),
       (1174, -0.42), (1129, -0.28), (1075, -0.21), (1057, -0.1), (1048, -0.23), (1021, -0.18),
       (949, -0.21), (895, -0.33), (841, -0.46), (805, -0.42), (772, -0.33), (760, -0.44),
       (742, -0.7), (724, -0.54), (700, -0.28)]
D11 = [(2500, 0), (2392, -0.02), (2248, -0.02), (2175, 0.03), (2103, -0.03), (2013, 0.07), (1959, 0),
       (1851, 0), (1670, 0), (1616, -0.1), (1544, 0.03), (1490, -0.03), (1454, -0.26), (1403, -0.76),
       (1373, -0.36), (1337, 0.36), (1292, 0.66), (1237, 0.52), (1201, 0.26), (1183, -0.26),
       (1147, -0.34), (1093, -0.28), (1066, 0.03), (1048, -0.16), (1021, -0.1), (931, -0.1),
       (895, -0.36), (859, -0.57), (823, -0.47), (772, 0.1), (760, -0.05), (736, -0.42), (714, -0.16),
       (700, 0.07)]
D_SPECTRA = [D01, D02, D03, D04, D05, D06, D07, D08, D09, D10, D11]
D_LABEL_X = [645.5, 644.8, 643.1, 645.8, 644.8, 643.1, 643.1, 643.1, 643.1, 643.1, 643.1]
D_LABEL_Y = [834.3, 890, 941.7, 997.7, 1048.3, 1090.7, 1135, 1182.3, 1232.3, 1284.3, 1348.3]

# ------------------------------------------------------------------
# page layout of the four panels (pixel boxes on the 1081 x 1499 page)
# ------------------------------------------------------------------
PANELS = [
    dict(tag="(a)", box=(80.9, 14, 413.9, 676), wn=(2500, 700), px_per_pct=8.0,
         spectra=A_SPECTRA, labels=A_LABELS, offsets=A_OFFSET, n_cyan=A_N_CYAN,
         lx=A_LABEL_X, ly=A_LABEL_Y, bar_pct=8, bar_text="= 8 %", smooth=False,
         bar_x=433, bar_top=22.7, text_x=449.4, text_y=(38.5, 71), tag_xy=(38, 39),
         ytitle_x=67, xtitle_y=727),
    dict(tag="(b)", box=(631.3, 14, 966.5, 674), wn=(2500, 700), px_per_pct=32.5,
         spectra=B_SPECTRA, labels=B_LABELS, offsets=B_OFFSET, n_cyan=B_N_CYAN,
         lx=B_LABEL_X, ly=B_LABEL_Y, bar_pct=2, bar_text="= 2 %", smooth=False,
         bar_x=987.9, bar_top=24, text_x=1005.5, text_y=(37.5, 68), tag_xy=(590, 39),
         ytitle_x=615, xtitle_y=724),
    dict(tag="(c)", box=(80.2, 780, 416.7, 1440.7), wn=(2500, 750), px_per_pct=32.0,
         spectra=C_SPECTRA, labels=C_LABELS, offsets=C_OFFSET, n_cyan=C_N_CYAN,
         lx=C_LABEL_X, ly=C_LABEL_Y, bar_pct=2, bar_text="= 2 %", smooth=True,
         bar_x=438, bar_top=788.3, text_x=453.9, text_y=(798, 831), tag_xy=(43, 810),
         ytitle_x=65, xtitle_y=1488.5),
    dict(tag="(d)", box=(631.3, 780, 969.2, 1440.7), wn=(2500, 700), px_per_pct=32.0,
         spectra=D_SPECTRA, labels=D_LABELS, offsets=D_OFFSET, n_cyan=D_N_CYAN,
         lx=D_LABEL_X, ly=D_LABEL_Y, bar_pct=2, bar_text="= 2 %", smooth=True,
         bar_x=990.2, bar_top=788.3, text_x=1007, text_y=(798, 831), tag_xy=(592, 808),
         ytitle_x=614, xtitle_y=1488.5),
]

LINE_GAP = 18.3  # spacing of the two-line labels


def fx(x):
    return x / FIG_W


def fy(y):
    return 1 - y / FIG_H


fig = go.Figure()
annotations = []
shapes = []
layout_axes = {}

for i, p in enumerate(PANELS, start=1):
    sfx = "" if i == 1 else str(i)
    xref, yref = "x" + sfx, "y" + sfx
    x0, y0, x1, y1 = p["box"]
    y_top = (y1 - y0) / p["px_per_pct"]

    layout_axes["xaxis" + sfx] = dict(
        domain=[fx(x0), fx(x1)], range=list(p["wn"]), anchor=yref,
        tickmode="array", tickvals=[2500, 2000, 1500, 1000],
        ticks="outside", ticklen=12, tickwidth=1.3, tickcolor=FRAME,
        showline=True, linecolor=FRAME, linewidth=1.3, mirror=True,
        showgrid=False, zeroline=False,
        tickfont=dict(family=SANS, size=19, color=TEXT))
    layout_axes["yaxis" + sfx] = dict(
        domain=[fy(y1), fy(y0)], range=[0, y_top], anchor=xref,
        showticklabels=False, ticks="", showline=True, linecolor=FRAME, linewidth=1.3,
        mirror=True, showgrid=False, zeroline=False)

    line_shape = dict(shape="spline", smoothing=0.6) if p["smooth"] else dict(shape="linear")
    for k, (spec, off) in enumerate(zip(p["spectra"], p["offsets"])):
        fig.add_trace(go.Scatter(
            x=[pt[0] for pt in spec], y=[pt[1] + off for pt in spec],
            mode="lines",
            line=dict(color=CYAN if k < p["n_cyan"] else BLUE, width=1.25, **line_shape),
            xaxis=xref, yaxis=yref, showlegend=False, hoverinfo="skip"))

    # curve labels
    for text, lx, ly in zip(p["labels"], p["lx"], p["ly"]):
        for j, line in enumerate(text.split("\n")):
            annotations.append(dict(
                x=fx(lx), y=fy(ly + j * LINE_GAP), xref="paper", yref="paper",
                text=line, showarrow=False, xanchor="left", yanchor="middle",
                font=dict(family=SANS, size=17, color=TEXT)))

    # panel tag
    annotations.append(dict(
        x=fx(p["tag_xy"][0]), y=fy(p["tag_xy"][1]), xref="paper", yref="paper",
        text=p["tag"], showarrow=False, xanchor="center", yanchor="middle",
        font=dict(family=SERIF, size=46, color="black")))

    # axis titles
    annotations.append(dict(
        x=fx(p["ytitle_x"]), y=fy((y0 + y1) / 2), xref="paper", yref="paper",
        text="Absorbance / a.u.", textangle=-90, showarrow=False,
        xanchor="center", yanchor="middle", font=dict(family=SANS, size=19, color=TEXT)))
    annotations.append(dict(
        x=fx((x0 + x1) / 2), y=fy(p["xtitle_y"]), xref="paper", yref="paper",
        text="Wavenumber / cm<sup>-1</sup>", showarrow=False,
        xanchor="center", yanchor="middle", font=dict(family=SANS, size=18, color=TEXT)))

    # dR/R scale bar, drawn on the panel's own y scale
    bar_hi = (y1 - p["bar_top"]) / p["px_per_pct"]
    shapes.append(dict(
        type="line", xref="paper", yref=yref,
        x0=fx(p["bar_x"]), x1=fx(p["bar_x"]), y0=bar_hi - p["bar_pct"], y1=bar_hi,
        line=dict(color="black", width=4.5)))
    annotations.append(dict(
        x=fx(p["text_x"]), y=fy(p["text_y"][0]), xref="paper", yref="paper",
        text="\u0394R/R", showarrow=False, xanchor="left", yanchor="middle",
        font=dict(family=SANS, size=27, color="black")))
    annotations.append(dict(
        x=fx(p["text_x"]), y=fy(p["text_y"][1]), xref="paper", yref="paper",
        text=p["bar_text"], showarrow=False, xanchor="left", yanchor="middle",
        font=dict(family=SANS, size=27, color="black")))

fig.update_layout(
    width=FIG_W, height=FIG_H, autosize=False,
    margin=dict(l=0, r=0, t=0, b=0),
    paper_bgcolor="white", plot_bgcolor="white",
    annotations=annotations, shapes=shapes, showlegend=False,
    **layout_axes)

fig.write_html("out.html", config=dict(displayModeBar=False))
